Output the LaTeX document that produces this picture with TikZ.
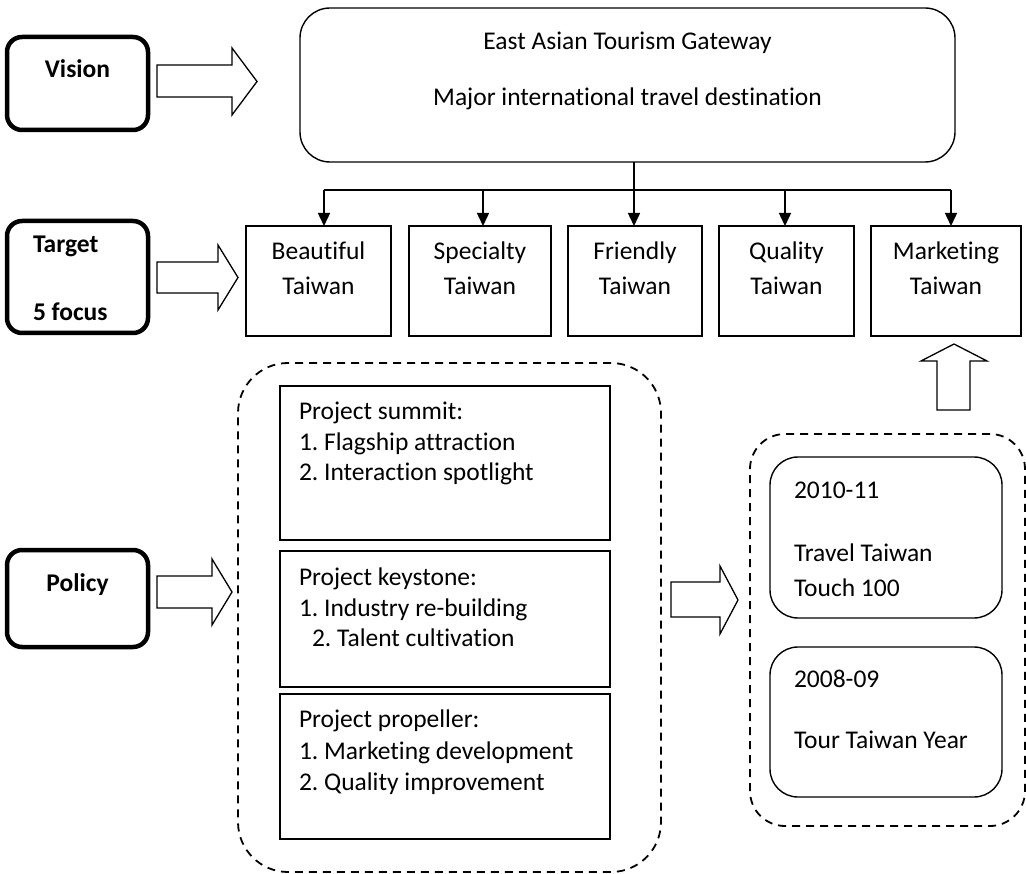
\documentclass[tikz,border=0pt]{standalone}
\usepackage{fontspec}
\setmainfont{Carlito}[Ligatures={NoCommon}]
\usetikzlibrary{arrows.meta}
\frenchspacing
\begin{document}
\begin{tikzpicture}[x=1pt,y=-1pt,
  every node/.style={inner sep=0pt,outer sep=0pt},
  lbl/.style={font=\fontsize{25.5}{30}\selectfont,text height=18pt,text depth=2pt},
  blbl/.style={lbl,font=\fontsize{25.5}{30}\selectfont\bfseries},
  headbox/.style={draw,line width=4.5pt,rounded corners=15pt},
  sqbox/.style={draw,line width=1.4pt},
  rbox/.style={draw,line width=1.4pt,rounded corners=28pt},
  dashbox/.style={draw,line width=1.8pt,dash pattern=on 8pt off 6pt},
  conn/.style={line width=1.5pt,-{Triangle[length=13pt,width=12pt]}},
  fat/.style={draw,line width=1.3pt,fill=white,line join=miter}
]
\useasboundingbox (0,0) rectangle (1026,874);

% left heading boxes
\node[headbox,minimum width=141pt,minimum height=93pt] (vision) at (77.5,83.5) {};
\node[blbl] (visiont) at (77.5,70) {Vision};
\node[headbox,minimum width=141pt,minimum height=112pt] (target) at (77.5,277) {};
\node[blbl,anchor=west] (targett) at (33,245) {Target};
\node[blbl,anchor=west] (focust) at (33,313) {5 focus};
\node[headbox,minimum width=141pt,minimum height=97pt] (policy) at (77.5,598.5) {};
\node[blbl] (policyt) at (77.5,583) {Policy};

% vision box
\node[draw,line width=1.4pt,rounded corners=30pt,minimum width=655pt,minimum height=154pt] (top) at (627.5,85) {};
\node[lbl] (topt1) at (627.5,42) {East Asian Tourism Gateway};
\node[lbl] (topt2) at (627.5,98) {Major international travel destination};

% five focus boxes
\node[sqbox,minimum width=145pt,minimum height=110pt] (beautiful) at (318.5,281) {};
\node[sqbox,minimum width=142pt,minimum height=110pt] (specialty) at (480,281) {};
\node[sqbox,minimum width=134pt,minimum height=110pt] (friendly) at (635,281) {};
\node[sqbox,minimum width=135pt,minimum height=110pt] (quality) at (786.5,281) {};
\node[sqbox,minimum width=150pt,minimum height=110pt] (marketing) at (946,281) {};
\foreach \n/\t/\cx in {beautiful/Beautiful/318.5,specialty/Specialty/480,friendly/Friendly/635,quality/Quality/786.5,marketing/Marketing/946}{
  \node[lbl] (\n t1) at (\cx,252) {\t};
  \node[lbl] (\n t2) at (\cx,287) {Taiwan};
}

% connectors
\coordinate (d1) at (324,190);
\coordinate (d2) at (483,190);
\coordinate (d3) at (634,190);
\coordinate (d4) at (785,190);
\coordinate (d5) at (951,190);
\draw[line width=1.5pt] (d1) -- (d5);
\draw[conn] (d3 |- top.south) -- (d3 |- friendly.north);
\draw[conn] (d1) -- (d1 |- beautiful.north);
\draw[conn] (d2) -- (d2 |- specialty.north);
\draw[conn] (d4) -- (d4 |- quality.north);
\draw[conn] (d5) -- (d5 |- marketing.north);

% block arrows
\draw[fat] (157,65) -- (232,65) -- (232,48) -- (257,81.5) -- (232,115) -- (232,97) -- (157,97) -- cycle;
\draw[fat] (157,262) -- (218,262) -- (218,245) -- (238,277.5) -- (218,310) -- (218,293) -- (157,293) -- cycle;
\draw[fat] (157,576) -- (212,576) -- (212,559) -- (232,592) -- (212,625) -- (212,608) -- (157,608) -- cycle;
\draw[fat] (671,582) -- (720,582) -- (720,566) -- (738,600) -- (720,634) -- (720,617) -- (671,617) -- cycle;
\draw[fat] (937,410) -- (937,361) -- (921,361) -- (954,344) -- (987,361) -- (970,361) -- (970,410) -- cycle;

% policy projects
\node[dashbox,rounded corners=50pt,minimum width=423pt,minimum height=509pt] (projects) at (449.5,617.5) {};
\node[sqbox,minimum width=330pt,minimum height=154pt] (summit) at (445,463) {};
\node[sqbox,minimum width=330pt,minimum height=136pt] (keystone) at (445,619) {};
\node[sqbox,minimum width=330pt,minimum height=145pt] (propeller) at (445,766.5) {};
\node[lbl,anchor=west] (s1) at (299,412) {Project summit:};
\node[lbl,anchor=west] (s2) at (299,443) {1. Flagship attraction};
\node[lbl,anchor=west] (s3) at (299,473) {2. Interaction spotlight};
\node[lbl,anchor=west] (k1) at (299,577) {Project keystone:};
\node[lbl,anchor=west] (k2) at (299,608) {1. Industry re-building};
\node[lbl,anchor=west] (k3) at (312,638) {2. Talent cultivation};
\node[lbl,anchor=west] (p1) at (299,719) {Project propeller:};
\node[lbl,anchor=west] (p2) at (299,751) {1. Marketing development};
\node[lbl,anchor=west] (p3) at (299,782) {2. Quality improvement};

% marketing campaigns
\node[dashbox,rounded corners=35pt,minimum width=275pt,minimum height=392pt] (campaigns) at (887.5,630) {};
\node[rbox,minimum width=232pt,minimum height=161pt] (c1) at (886,537.5) {};
\node[rbox,minimum width=232pt,minimum height=150pt] (c2) at (886,722) {};
\node[lbl,anchor=west] (c1a) at (794,491) {2010-11};
\node[lbl,anchor=west] (c1b) at (794,553) {Travel Taiwan};
\node[lbl,anchor=west] (c1c) at (794,588) {Touch 100};
\node[lbl,anchor=west] (c2a) at (794,679) {2008-09};
\node[lbl,anchor=west] (c2b) at (794,740) {Tour Taiwan Year};
\end{tikzpicture}
\end{document}
